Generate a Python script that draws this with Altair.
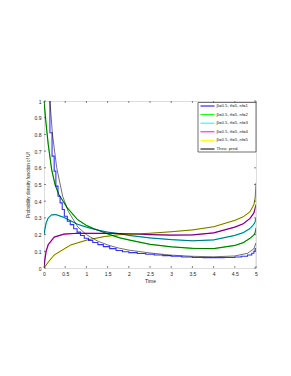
import altair as alt
import pandas as pd

# ---------------- data ----------------
# empirical curves (coloured)
t_n1 = [0.0, 0.14, 0.19, 0.24, 0.28, 0.33, 0.38, 0.43, 0.48, 0.55, 0.62, 0.70, 0.78, 0.86, 0.95,
        1.05, 1.15, 1.27, 1.40, 1.55, 1.70, 1.85, 2.0, 2.2, 2.4, 2.6, 2.8, 3.0, 3.25, 3.5, 3.75,
        4.0, 4.25, 4.5, 4.65, 4.8, 4.9, 4.95, 4.98, 5.0]
v_n1 = [1.6, 0.81, 0.67, 0.58, 0.49, 0.43, 0.39, 0.35, 0.31, 0.28, 0.26, 0.235, 0.215, 0.195, 0.178,
        0.165, 0.153, 0.14, 0.128, 0.116, 0.105, 0.097, 0.092, 0.087, 0.082, 0.078, 0.074, 0.07, 0.066,
        0.063, 0.062, 0.062, 0.063, 0.066, 0.07, 0.078, 0.088, 0.10, 0.115, 0.12]

t_n2 = [0.0, 0.05, 0.10, 0.18, 0.26, 0.35, 0.55, 0.79, 1.0, 1.18, 1.57, 1.79, 2.0, 2.5, 3.0, 3.5,
        4.0, 4.5, 4.7, 4.86, 4.95, 4.98, 5.0]
v_n2 = [1.0, 0.86, 0.74, 0.59, 0.50, 0.44, 0.36, 0.29, 0.255, 0.235, 0.198, 0.18, 0.168, 0.142,
        0.127, 0.118, 0.116, 0.135, 0.152, 0.178, 0.198, 0.21, 0.24]

t_n3 = [0.0, 0.02, 0.05, 0.10, 0.18, 0.28, 0.47, 0.79, 1.0, 1.18, 1.5, 1.8, 2.0, 2.5, 3.0, 3.5,
        4.0, 4.5, 4.7, 4.86, 4.95, 4.98, 5.0]
v_n3 = [0.20, 0.23, 0.27, 0.30, 0.318, 0.32, 0.303, 0.262, 0.245, 0.232, 0.215, 0.205, 0.195, 0.18,
        0.17, 0.163, 0.168, 0.195, 0.212, 0.237, 0.262, 0.277, 0.30]

t_n4 = [0.0, 0.02, 0.05, 0.10, 0.24, 0.47, 0.8, 1.5, 2.0, 2.5, 3.0, 3.5, 4.0, 4.5, 4.7, 4.86,
        4.95, 4.98, 5.0]
v_n4 = [0.0, 0.05, 0.10, 0.14, 0.185, 0.203, 0.208, 0.207, 0.205, 0.20, 0.197, 0.198, 0.21, 0.245,
        0.265, 0.297, 0.33, 0.357, 0.38]

t_n5 = [0.0, 0.10, 0.24, 0.63, 1.02, 1.42, 1.79, 2.1, 2.5, 3.0, 3.5, 4.0, 4.5, 4.7, 4.86, 4.95,
        4.98, 5.0, 5.0]
v_n5 = [0.0, 0.035, 0.078, 0.138, 0.168, 0.188, 0.20, 0.203, 0.208, 0.217, 0.228, 0.247, 0.285,
        0.307, 0.337, 0.38, 0.41, 0.45, 0.0]

# theoretical predictions (black)
t_th1 = [0.12, 0.14, 0.2, 0.3, 0.44, 0.57, 0.8, 1.0, 1.25, 1.5, 1.75, 2.0, 2.5, 3.0, 3.5, 4.0,
         4.5, 4.8, 4.95, 5.0]
v_th1 = [1.15, 1.0, 0.8, 0.6, 0.43, 0.34, 0.245, 0.2, 0.163, 0.138, 0.12, 0.107, 0.09, 0.077,
         0.07, 0.067, 0.072, 0.088, 0.115, 0.15]
t_th5 = [0.0, 0.10, 0.24, 0.63, 1.02, 1.42, 1.79, 2.1, 2.5, 3.0, 3.5, 4.0, 4.5, 4.7, 4.86, 4.95,
         4.98, 5.0]
v_th5 = [0.0, 0.035, 0.078, 0.138, 0.168, 0.188, 0.20, 0.203, 0.208, 0.217, 0.228, 0.247, 0.285,
         0.307, 0.337, 0.38, 0.42, 0.51]

labels = ["β=0.5, tf=5, nf=1", "β=0.5, tf=5, nf=2", "β=0.5, tf=5, nf=3",
          "β=0.5, tf=5, nf=4", "β=0.5, tf=5, nf=5", "Theo. pred."]
colors = ["#0000ff", "#00ff00", "#00ffff", "#ff00ff", "#ffff00", "#000000"]

x_ticks = [0, 0.5, 1, 1.5, 2, 2.5, 3, 3.5, 4, 4.5, 5]
y_ticks = [0, 0.1, 0.2, 0.3, 0.4, 0.5, 0.6, 0.7, 0.8, 0.9, 1]

W, H = 212, 167

# ---------------- tables ----------------
def tab(ts, vs, name):
    return pd.DataFrame({"t": ts, "v": vs, "curve": name})

emp = pd.concat([tab(t_n2, v_n2, "n2"), tab(t_n3, v_n3, "n3"),
                 tab(t_n4, v_n4, "n4"), tab(t_n5, v_n5, "n5")], ignore_index=True)
emp["order"] = range(len(emp))
blue = tab(t_n1, v_n1, "n1")
theo = pd.concat([tab(t_th1, v_th1, "t1"), tab(t_n2, v_n2, "t2"), tab(t_n3, v_n3, "t3"),
                  tab(t_n4, v_n4, "t4"), tab(t_th5, v_th5, "t5")], ignore_index=True)
theo["order"] = range(len(theo))

cmap = {"n1": colors[0], "n2": colors[1], "n3": colors[2], "n4": colors[3], "n5": colors[4]}
emp["col"] = emp["curve"].map(cmap)

xs = alt.Scale(domain=[0, 5], nice=False, zero=False)
ys = alt.Scale(domain=[0, 1], nice=False, zero=False)

x_axis = alt.Axis(values=x_ticks, format="~g", title="Time", labelFontSize=5,
                  titleFontSize=5, titleFontWeight="normal", ticks=False, domain=False,
                  grid=False, labelPadding=3, titlePadding=2, labelColor="#222",
                  titleColor="#222", labelFont="Liberation Sans", titleFont="Liberation Sans",
                  labelOverlap=False, labelFlush=False, labelBound=False)
y_axis = alt.Axis(values=y_ticks, format="~g", title="Probability density function of Uf",
                  labelFontSize=5, titleFontSize=4.6, titleFontWeight="normal", ticks=False,
                  domain=False, grid=False, labelPadding=3, titlePadding=4,
                  labelColor="#222", titleColor="#222", labelFont="Liberation Sans",
                  titleFont="Liberation Sans", labelOverlap=False, labelFlush=False,
                  labelBound=False)


def X(field="t:Q"):
    return alt.X(field, scale=xs, axis=x_axis)


def Y(field="v:Q"):
    return alt.Y(field, scale=ys, axis=y_axis)


emp_layer = alt.Chart(emp).mark_line(strokeWidth=1.2, clip=True).encode(
    x=X(), y=Y(), detail="curve:N", order="order:Q", color=alt.Color("col:N", scale=None))
blue_layer = alt.Chart(blue).mark_line(strokeWidth=1.1, clip=True, interpolate="step-after",
                                       color="#3030ff").encode(x=X(), y=Y())
theo_layer = alt.Chart(theo).mark_line(strokeWidth=0.7, clip=True, color="#000000",
                                       opacity=0.8).encode(
    x=X(), y=Y(), detail="curve:N", order="order:Q")

# inside tick marks
xt = pd.DataFrame({"t": x_ticks})
yt = pd.DataFrame({"v": y_ticks})
tick_style = dict(color="#333", strokeWidth=0.6)
xb = alt.Chart(xt).mark_rule(**tick_style).encode(x=X(), y=alt.value(H), y2=alt.value(H - 2))
xtop = alt.Chart(xt).mark_rule(**tick_style).encode(x=X(), y=alt.value(0), y2=alt.value(2))
yl = alt.Chart(yt).mark_rule(**tick_style).encode(y=Y(), x=alt.value(0), x2=alt.value(2))
yr = alt.Chart(yt).mark_rule(**tick_style).encode(y=Y(), x=alt.value(W), x2=alt.value(W - 2))

# manual legend
leg = pd.DataFrame({"label": labels, "col": colors,
                    "py": [5.0 + 8.6 * i for i in range(len(labels))]})
box = alt.Chart(pd.DataFrame({"a": [0]})).mark_rect(fill="white", stroke="#333", strokeWidth=0.7).encode(
    x=alt.value(154), x2=alt.value(W), y=alt.value(1.5), y2=alt.value(51))
sw = alt.Chart(leg).mark_rule(strokeWidth=1.0).encode(
    x=alt.value(156.5), x2=alt.value(170.5), y=alt.Y("py:Q", scale=None),
    color=alt.Color("col:N", scale=None))
txt = alt.Chart(leg).mark_text(align="left", baseline="middle", fontSize=4.3,
                               font="Liberation Sans", color="#222").encode(
    x=alt.value(172.5), y=alt.Y("py:Q", scale=None), text="label:N")

chart = alt.layer(emp_layer, blue_layer, theo_layer, xb, xtop, yl, yr, box, sw, txt).properties(
    width=W, height=H,
    autosize=alt.AutoSizeParams(type="none"),
    padding={"left": 36, "top": 93, "right": 27, "bottom": 90},
).configure_view(stroke="#222", strokeWidth=0.8).configure(background="white")

chart.save("out.html", embed_options={"renderer": "svg", "actions": False})
